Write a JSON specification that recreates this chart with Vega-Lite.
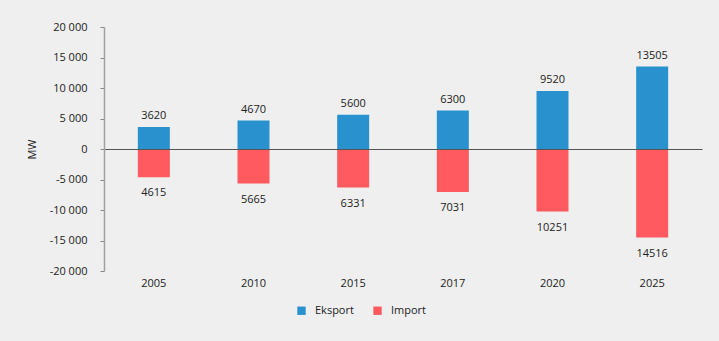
{
  "$schema": "https://vega.github.io/schema/vega-lite/v6.json",
  "width": 598,
  "height": 244,
  "autosize": "none",
  "padding": {"left": 104, "top": 27, "right": 17, "bottom": 70},
  "background": "#eeefee",
  "config": {"view": {"stroke": null}, "font": "Open Sans", "text": {"font": "Open Sans"}},
  "data": {
    "values": [
      {"year": "2005", "series": "Eksport", "value": 3620, "label": "3620"},
      {"year": "2010", "series": "Eksport", "value": 4670, "label": "4670"},
      {"year": "2015", "series": "Eksport", "value": 5600, "label": "5600"},
      {"year": "2017", "series": "Eksport", "value": 6300, "label": "6300"},
      {"year": "2020", "series": "Eksport", "value": 9520, "label": "9520"},
      {"year": "2025", "series": "Eksport", "value": 13505, "label": "13505"},
      {"year": "2005", "series": "Import", "value": -4615, "label": "4615"},
      {"year": "2010", "series": "Import", "value": -5665, "label": "5665"},
      {"year": "2015", "series": "Import", "value": -6331, "label": "6331"},
      {"year": "2017", "series": "Import", "value": -7031, "label": "7031"},
      {"year": "2020", "series": "Import", "value": -10251, "label": "10251"},
      {"year": "2025", "series": "Import", "value": -14516, "label": "14516"}
    ]
  },
  "encoding": {
    "x": {
      "field": "year", "type": "ordinal", "sort": null,
      "scale": {"paddingInner": 0, "paddingOuter": 0},
      "axis": {"title": null, "domain": false, "ticks": false, "labelAngle": 0, "labelPadding": 6, "labelFontSize": 11, "labelColor": "#222222", "labelFont": "Open Sans"}
    },
    "y": {
      "field": "value", "type": "quantitative", "stack": "zero",
      "scale": {"domain": [-20000, 20000], "nice": false},
      "axis": {
        "title": "MW", "titleFontWeight": "normal", "titleFontSize": 11, "titleColor": "#222222", "titleFont": "Open Sans", "titlePadding": 12,
        "values": [-20000, -15000, -10000, -5000, 0, 5000, 10000, 15000, 20000],
        "labelOverlap": false,
        "labelExpr": "replace(replace(format(datum.value, ','), ',', ' '), '−', '-')",
        "grid": true, "gridColor": "#555555", "gridWidth": 1,
        "gridOpacity": {"condition": {"test": "datum.value === 0", "value": 1}, "value": 0},
        "zindex": 1,
        "domainColor": "#a0a0a0", "domainWidth": 1.5, "tickColor": "#888888", "tickSize": 4,
        "labelPadding": 13, "labelFontSize": 11, "labelColor": "#222222", "labelFont": "Open Sans"
      }
    }
  },
  "layer": [
    {
      "mark": {"type": "bar", "size": 32},
      "encoding": {
        "color": {
          "field": "series", "type": "nominal",
          "scale": {"domain": ["Eksport", "Import"], "range": ["#2a91cf", "#ff5a60"]},
          "legend": {
            "title": null, "orient": "none", "direction": "horizontal", "legendX": 192, "legendY": 278,
            "symbolType": "square", "symbolSize": 70, "symbolStrokeWidth": 0, "labelFontSize": 11, "labelColor": "#222222", "labelFont": "Open Sans",
            "labelOffset": 8, "columnPadding": 18
          }
        }
      }
    },
    {
      "transform": [{"filter": "datum.series === 'Eksport'"}],
      "mark": {"type": "text", "baseline": "alphabetic", "dy": -8, "fontSize": 11, "color": "#222222"},
      "encoding": {"text": {"field": "label"}}
    },
    {
      "transform": [{"filter": "datum.series === 'Import'"}],
      "mark": {"type": "text", "baseline": "top", "dy": 10, "fontSize": 11, "color": "#222222"},
      "encoding": {"text": {"field": "label"}}
    }
  ]
}
